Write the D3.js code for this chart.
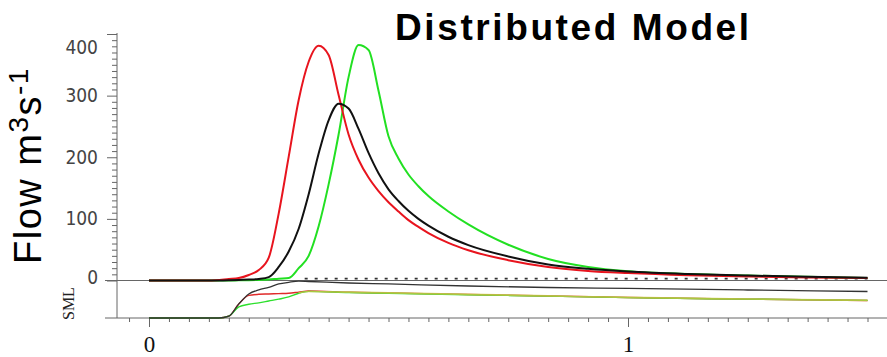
<!DOCTYPE html>
<html>
<head>
<meta charset="utf-8">
<script src="https://cdn.jsdelivr.net/npm/d3@7"></script>
<style>
  body { margin: 0; background: #fff; }
  svg  { display: block; }
</style>
</head>
<body>
<svg id="chart" width="887" height="357"></svg>
<script>
/* ── Data ─────────────────────────────────────────────────────── */
/* hours since start of the event (axis is in days) */
const hours = [0, 2, 3, 4, 4.5, 5, 5.5, 6, 6.5, 7, 7.5, 8, 8.5, 9, 9.5, 10, 10.5,
               11, 11.5, 12, 12.5, 13, 13.5, 14, 15, 16, 18, 20, 22, 24, 27, 30, 33, 36];

/* flow, m3/s */
const flowRed   = [0, 0, 0, 2.4, 4, 9, 17, 37, 109, 201, 293, 355, 381, 366, 301, 237, 196,
                   167, 145, 127, 112, 98, 87, 77, 61, 49, 33, 22, 15.5, 12, 8.5, 6.5, 5, 4];
const flowBlack = [0, 0, 0, 0.5, 1, 1.5, 2.5, 5.5, 22, 47, 84, 140, 206, 260, 287, 279, 246,
                   207, 174, 148, 129, 113, 100, 89, 71, 57.5, 39, 26, 19, 14.5, 10.5, 8, 6, 4.5];
const flowGreen = [0, 0, 0, 0, 0.3, 0.5, 1, 1.5, 3, 4, 20, 40, 88, 156, 237, 330, 382,
                   374, 308, 234, 198, 172, 153, 137, 112, 91, 58, 35, 22, 15, 10.5, 8, 6, 4];

/* dashed reference line */
const dashHours  = [7.8, 36];
const dashValues = [3, 3];

/* soil moisture (lower strip), relative units */
const smlHours  = [0, 3, 3.5, 4, 4.5, 5, 5.5, 6, 6.5, 7, 7.5, 8, 10, 12, 16, 20, 24, 30, 36];
const smlBlack  = [0, 0, 0, 5, 38, 65, 76, 83, 92, 96.5, 99.5, 98.6, 94.6, 92, 86.5, 82.4, 80, 75.7, 71.6];
const smlRed    = [0, 0, 0, 5, 38, 61, 64, 65, 66, 67, 70, 73, 69.5, 67.6, 63.5, 59.5, 55.4, 51, 47.3];
const smlGreen  = [0, 0, 0, 5, 30, 37, 41, 46, 51, 57, 67, 72, 69, 67, 63, 59, 55, 51, 47.5];
const smlYellow = [null, null, null, null, null, null, null, null, null, null,
                   67.5, 71.5, 69.8, 67.8, 63.8, 59.8, 55.7, 51.3, 47.6];

const flowTicks = d3.range(0, 401, 10);
const timeTicks = d3.range(-1, 37).map(h => h / 24);

/* ── Scales ───────────────────────────────────────────────────── */
const svg = d3.select("#chart");
const x    = d3.scaleLinear().domain([0, 1]).range([149, 628]);   /* days */
const yFlow = d3.scaleLinear().domain([0, 400]).range([280.5, 34]);
const ySml  = d3.scaleLinear().domain([0, 100]).range([318, 281]);

const AXIS = "#666";

/* ── Frame lines ──────────────────────────────────────────────── */
svg.append("line")
  .attr("x1", 117).attr("x2", 117).attr("y1", 33).attr("y2", 318)
  .attr("stroke", AXIS);
svg.append("line")
  .attr("x1", 105).attr("x2", 887).attr("y1", yFlow(0)).attr("y2", yFlow(0))
  .attr("stroke", AXIS);

/* ── Flow axis ────────────────────────────────────────────────── */
const yAxis = svg.append("g")
  .attr("transform", "translate(117,0)")
  .call(d3.axisLeft(yFlow)
    .tickValues(flowTicks)
    .tickSize(5)
    .tickPadding(14)
    .tickFormat(d => d % 100 === 0 ? d : ""));
yAxis.select(".domain").remove();
yAxis.selectAll(".tick line")
  .attr("stroke", AXIS)
  .attr("x2", d => d % 100 === 0 ? -10 : -5);
yAxis.selectAll(".tick text")
  .attr("fill", "#444")
  .style("font-family", "'DejaVu Sans Condensed', 'DejaVu Sans', sans-serif")
  .style("font-size", "19px")
  .attr("dy", d => d === 400 ? "1.05em" : d === 0 ? "0.15em" : "0.32em");

/* ── Time axis ────────────────────────────────────────────────── */
const xAxis = svg.append("g")
  .attr("transform", "translate(0,318)")
  .call(d3.axisBottom(x)
    .tickValues(timeTicks)
    .tickSize(4)
    .tickPadding(14)
    .tickFormat(d => (Math.abs(d) < 1e-9 ? "0" : Math.abs(d - 1) < 1e-9 ? "1" : "")));
xAxis.select(".domain").remove();
xAxis.append("line")
  .attr("x1", 105).attr("x2", 887)
  .attr("stroke", AXIS);
xAxis.selectAll(".tick line")
  .attr("stroke", AXIS)
  .attr("y2", (d, i) => (i === 1 || i === 25) ? 9 : 4);
xAxis.selectAll(".tick text")
  .attr("fill", "#111")
  .style("font-family", "'Liberation Serif', 'DejaVu Serif', serif")
  .style("font-size", "23px");

/* ── Series ───────────────────────────────────────────────────── */
const flowLine = d3.line()
  .x(d => x(d[0] / 24))
  .y(d => yFlow(d[1]))
  .curve(d3.curveMonotoneX);

const smlLine = d3.line()
  .defined(d => d[1] != null)
  .x(d => x(d[0] / 24))
  .y(d => ySml(d[1]))
  .curve(d3.curveMonotoneX);

const zip = (xs, ys) => xs.map((h, i) => [h, ys[i]]);

/* lower strip */
[[smlRed, "#e02a2a", 1.4, 1],
 [smlGreen, "#2ee02e", 1.4, 1],
 [smlYellow, "#c9c245", 1.6, 0.8],
 [smlBlack, "#333", 1.3, 1]].forEach(([vals, col, w, op]) => {
  svg.append("path")
    .datum(zip(smlHours, vals))
    .attr("fill", "none")
    .attr("stroke", col)
    .attr("stroke-width", w)
    .attr("stroke-opacity", op)
    .attr("d", smlLine);
});

/* dashed line */
svg.append("path")
  .datum(zip(dashHours, dashValues))
  .attr("fill", "none")
  .attr("stroke", "#333")
  .attr("stroke-width", 1.6)
  .attr("stroke-dasharray", "3,7")
  .attr("d", d3.line().x(d => x(d[0] / 24)).y(d => yFlow(d[1])));

/* hydrographs */
[[flowGreen, "#22e022"],
 [flowRed, "#e8141e"],
 [flowBlack, "#111"]].forEach(([vals, col]) => {
  svg.append("path")
    .datum(zip(hours, vals))
    .attr("fill", "none")
    .attr("stroke", col)
    .attr("stroke-width", 2)
    .attr("d", flowLine);
});

/* ── Labels ───────────────────────────────────────────────────── */
svg.append("text")
  .attr("x", 395).attr("y", 40)
  .style("font-family", "'Liberation Sans', Arial, sans-serif")
  .style("font-weight", "bold")
  .style("font-size", "37px")
  .style("letter-spacing", "2.6px")
  .attr("fill", "#000")
  .text("Distributed Model");

const yLab = svg.append("text")
  .attr("transform", "translate(41,264) rotate(-90)")
  .style("font-family", "'Liberation Sans', Arial, sans-serif")
  .style("font-size", "38px")
  .style("letter-spacing", "1.5px")
  .attr("fill", "#000");
yLab.append("tspan").text("Flow m");
yLab.append("tspan").attr("dy", -13).style("font-size", "28px").text("3");
yLab.append("tspan").attr("dy", 13).text("s");
yLab.append("tspan").attr("dy", -13).style("font-size", "28px").text("-1");

svg.append("text")
  .attr("transform", "translate(74,320) rotate(-90)")
  .style("font-family", "'Liberation Serif', 'DejaVu Serif', serif")
  .style("font-size", "16px")
  .attr("fill", "#222")
  .text("SML");
</script>
</body>
</html>
